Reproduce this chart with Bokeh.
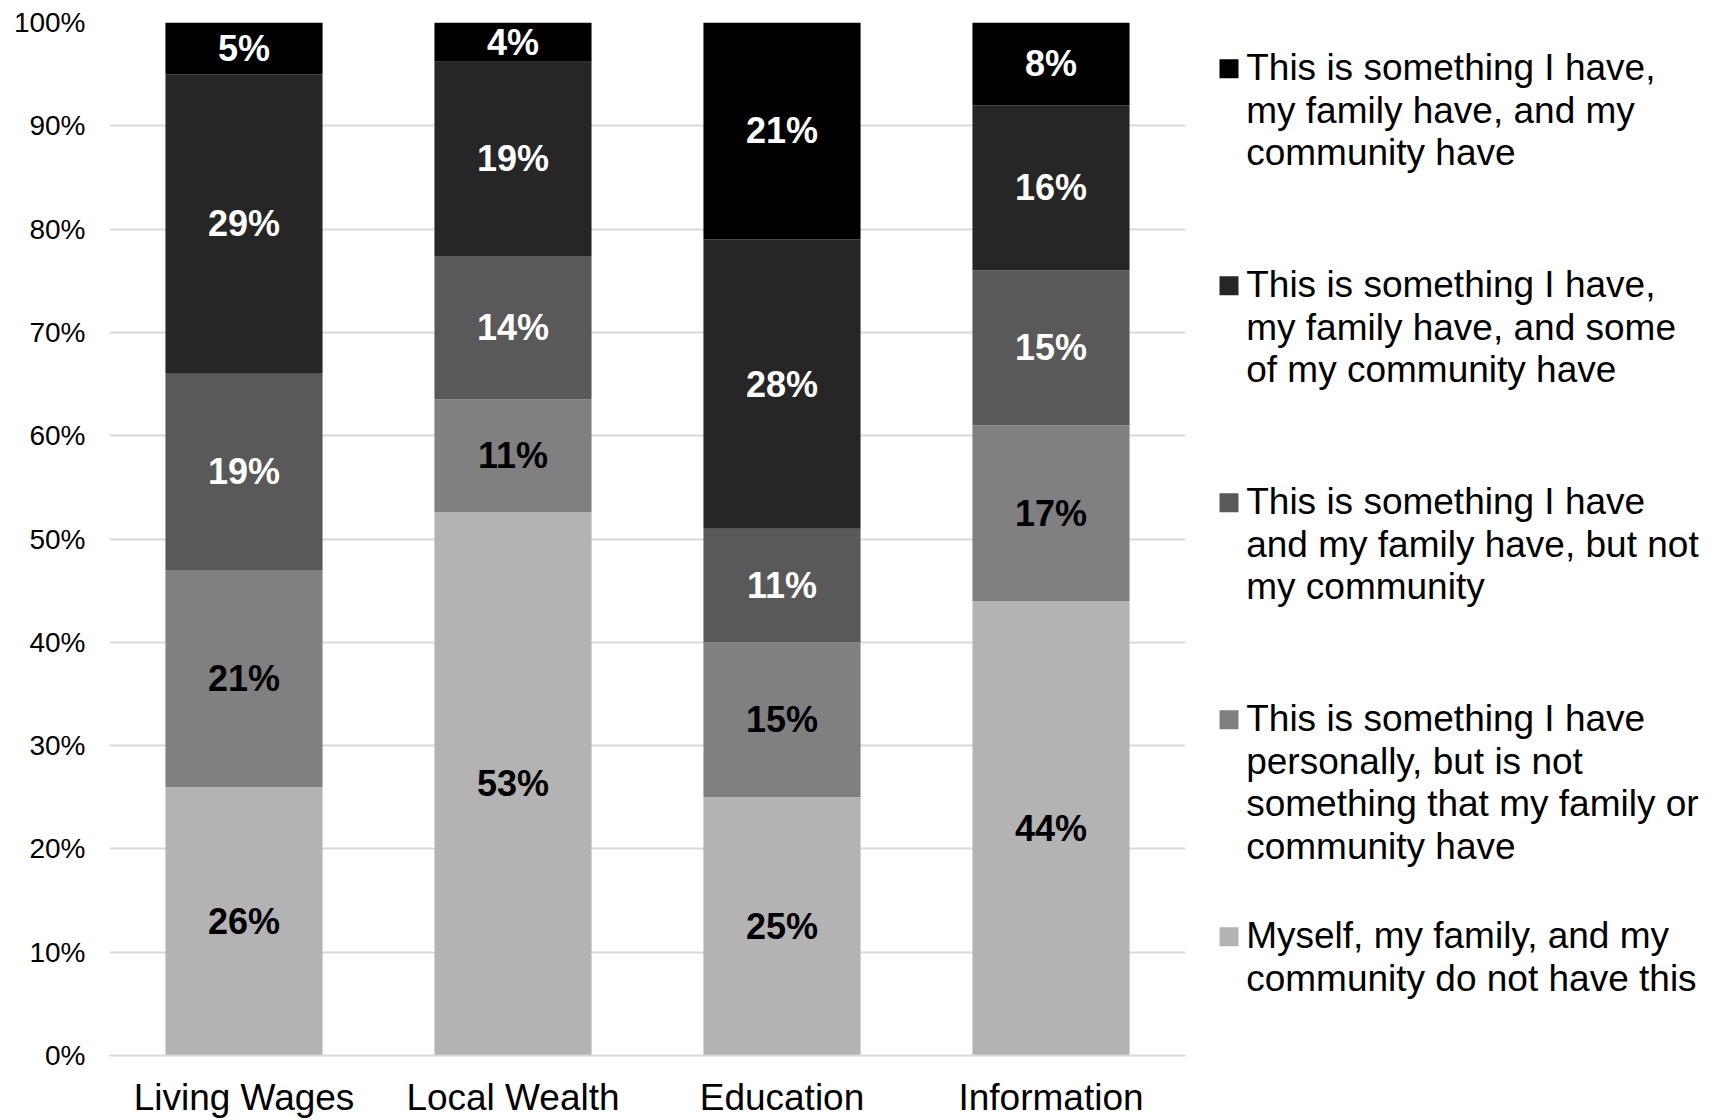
from bokeh.plotting import figure
from bokeh.models import ColumnDataSource, Range1d, FactorRange, FixedTicker, PrintfTickFormatter
from bokeh.layouts import row
from bokeh.embed import file_html
from bokeh.resources import INLINE
from bokeh.core.properties import value

# ---- data (percent of respondents) ----
categories = ["Living Wages", "Local Wealth", "Education", "Information"]
not_have = [26, 52.6, 25, 44]          # Myself, my family, and my community do not have this
personal_only = [21, 10.9, 15, 17]     # I have personally, not family or community
me_and_family = [19, 13.9, 11, 15]     # I and my family have, not community
some_community = [29, 18.8, 28, 16]    # I, family and some of community have
all_community = [5, 3.8, 21, 8]        # I, family and community have

series_keys = ["not_have", "personal_only", "me_and_family", "some_community", "all_community"]
series_values = [not_have, personal_only, me_and_family, some_community, all_community]
series_colors = ["#b3b3b3", "#808080", "#595959", "#262626", "#000000"]
label_colors = ["#000000", "#000000", "#ffffff", "#ffffff", "#ffffff"]

legend_lines = {
    "all_community": ["This is something I have,", "my family have, and my", "community have"],
    "some_community": ["This is something I have,", "my family have, and some", "of my community have"],
    "me_and_family": ["This is something I have", "and my family have, but not", "my community"],
    "personal_only": ["This is something I have", "personally, but is not", "something that my family or", "community have"],
    "not_have": ["Myself, my family, and my", "community do not have this"],
}
legend_order = ["all_community", "some_community", "me_and_family", "personal_only", "not_have"]

FONT = "Liberation Sans"

# ---- layout (pixels) ----
W_TOTAL, H = 1721, 1120
BL, BT, BB, BR = 109, 22, 64, 15
FW = 1076
W_MAIN = BL + FW + BR
W_LEG = W_TOTAL - W_MAIN

data = {"cat": categories}
for k, v in zip(series_keys, series_values):
    data[k] = v
src = ColumnDataSource(data)

p = figure(x_range=FactorRange(factors=categories, range_padding=0),
           y_range=Range1d(0, 100),
           width=W_MAIN, height=H,
           min_border_left=BL, min_border_right=BR, min_border_top=BT, min_border_bottom=BB,
           output_backend="svg", toolbar_location=None)

p.vbar_stack(series_keys, x="cat", width=0.584, color=series_colors, source=src, line_width=0)

# data labels in the middle of each segment
lx, ly, lt, lc = [], [], [], []
bottoms = [0.0] * len(categories)
for vals, col in zip(series_values, label_colors):
    for i, c in enumerate(categories):
        lx.append(c)
        ly.append(bottoms[i] + vals[i] / 2.0)
        lt.append(f"{round(vals[i])}%")
        lc.append(col)
        bottoms[i] += vals[i]
lab_src = ColumnDataSource(dict(x=lx, y=ly, t=lt, c=lc))
p.text(x="x", y="y", text="t", text_color="c", source=lab_src,
       text_align="center", text_baseline="middle",
       text_font=value(FONT), text_font_style="bold", text_font_size="36px")

p.yaxis.ticker = FixedTicker(ticks=list(range(0, 101, 10)))
p.yaxis.formatter = PrintfTickFormatter(format="%d%%")
p.yaxis.axis_line_color = None
p.yaxis.major_tick_line_color = None
p.yaxis.minor_tick_line_color = None
p.yaxis.major_label_text_font = FONT
p.yaxis.major_label_text_font_size = "28px"
p.yaxis.major_label_text_color = "#000000"
p.yaxis.major_label_standoff = 18

p.xaxis.axis_line_color = "#d9d9d9"
p.xaxis.axis_line_width = 2
p.xaxis.major_tick_line_color = None
p.xaxis.minor_tick_line_color = None
p.xaxis.major_label_text_font = FONT
p.xaxis.major_label_text_font_size = "37px"
p.xaxis.major_label_text_color = "#000000"
p.xaxis.major_label_standoff = 15

p.xgrid.grid_line_color = None
p.ygrid.grid_line_color = "#d9d9d9"
p.ygrid.grid_line_width = 2
p.outline_line_color = None

# ---- legend panel: its ranges are in page pixels (x right, y down) ----
q = figure(x_range=Range1d(W_MAIN, W_TOTAL), y_range=Range1d(H - BB, BT),
           width=W_LEG, height=H,
           min_border_left=0, min_border_right=0, min_border_top=BT, min_border_bottom=BB,
           output_backend="svg", toolbar_location=None)
q.axis.visible = False
q.grid.grid_line_color = None
q.outline_line_color = None

item_step = 217.2
line_step = 42.5
sq_size = 19.0
sq_cx, first_sq_cy = 1228.5, 68.3
text_x, first_base = 1245.7, 67.5
sx, sy, sc = [], [], []
tx, ty, tt = [], [], []
for n, key in enumerate(legend_order):
    idx = series_keys.index(key)
    sx.append(sq_cx)
    sy.append(first_sq_cy + n * item_step)
    sc.append(series_colors[idx])
    for k, line in enumerate(legend_lines[key]):
        tx.append(text_x)
        ty.append(first_base + n * item_step + k * line_step)
        tt.append(line)
q.rect(x=sx, y=sy, width=sq_size, height=sq_size, fill_color=sc, line_color=None)
q.text(x=tx, y=ty, text=tt, text_align="left", text_baseline="alphabetic",
       text_font=value(FONT), text_font_size="37px", text_color="#000000")

layout = row(p, q)
open("out.html", "w").write(file_html(layout, INLINE))
